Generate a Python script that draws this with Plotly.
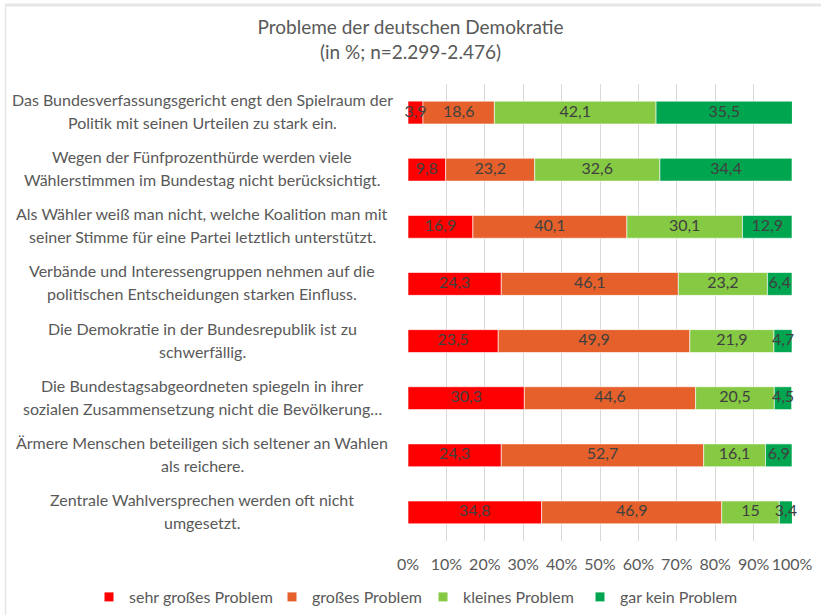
import plotly.graph_objects as go

categories = [
    ["Das Bundesverfassungsgericht engt den Spielraum der", "Politik mit seinen Urteilen zu stark ein."],
    ["Wegen der Fünfprozenthürde werden viele", "Wählerstimmen im Bundestag nicht berücksichtigt."],
    ["Als Wähler weiß man nicht, welche Koalition man mit", "seiner Stimme für eine Partei letztlich unterstützt."],
    ["Verbände und Interessengruppen nehmen auf die", "politischen Entscheidungen starken Einfluss."],
    ["Die Demokratie in der Bundesrepublik ist zu", "schwerfällig."],
    ["Die Bundestagsabgeordneten spiegeln in ihrer", "sozialen Zusammensetzung nicht die Bevölkerung…"],
    ["Ärmere Menschen beteiligen sich seltener an Wahlen", "als reichere."],
    ["Zentrale Wahlversprechen werden oft nicht", "umgesetzt."],
]
series_names = ["sehr großes Problem", "großes Problem", "kleines Problem", "gar kein Problem"]
sehr_gross = [3.9, 9.8, 16.9, 24.3, 23.5, 30.3, 24.3, 34.8]
gross = [18.6, 23.2, 40.1, 46.1, 49.9, 44.6, 52.7, 46.9]
klein = [42.1, 32.6, 30.1, 23.2, 21.9, 20.5, 16.1, 15]
gar_kein = [35.5, 34.4, 12.9, 6.4, 4.7, 4.5, 6.9, 3.4]
colors = ["#FF0000", "#E5602A", "#86C943", "#00A550"]
tick_vals = [0, 10, 20, 30, 40, 50, 60, 70, 80, 90, 100]
tick_text = [f"{v}%" for v in tick_vals]

FONT = "Lato"
TXT = "#595959"
W, H = 821, 615
ML, MR, MT, MB = 408, 29, 84, 74
keys = [f"c{i}" for i in range(len(categories))]


def px_x(p):
    return (p - ML) / (W - ML - MR)


def px_y(p):
    return (H - MB - p) / (H - MT - MB)


fig = go.Figure()
all_series = [sehr_gross, gross, klein, gar_kein]
base = [0.0] * len(keys)
for i, (name, vals, col) in enumerate(zip(series_names, all_series, colors)):
    fig.add_trace(go.Bar(
        y=keys, x=vals, name=name, orientation="h", base=base,
        marker=dict(color=col, line=dict(color="white", width=0.6)),
        showlegend=False, hoverinfo="skip",
    ))
    mids = [b + v / 2 for b, v in zip(base, vals)]
    fig.add_trace(go.Scatter(
        x=mids, y=keys, mode="text",
        text=[f"{v:g}".replace(".", ",") for v in vals],
        textposition="middle center", cliponaxis=False,
        textfont=dict(family=FONT, size=16, color="#404040"),
        showlegend=False, hoverinfo="skip",
    ))
    base = [b + v for b, v in zip(base, vals)]

# legend entries
legend_px = [89, 272, 423, 580]
for i, (name, col) in enumerate(zip(series_names, colors)):
    lg = "legend" if i == 0 else f"legend{i + 1}"
    fig.add_trace(go.Scatter(
        x=[None], y=[None], mode="markers", name=name,
        marker=dict(symbol="square", size=9, color=col),
        legend=lg, showlegend=True, hoverinfo="skip",
    ))

annotations = []
for k, lines in zip(keys, categories):
    for j, line in enumerate(lines):
        annotations.append(dict(
            x=px_x(202), xref="paper", y=k, yref="y", text=line, showarrow=False,
            xanchor="center", yanchor="middle", yshift=13 - 23 * j,
            font=dict(family=FONT, size=16, color=TXT),
        ))

legend_common = dict(orientation="h", yref="container", y=1 - 597 / H, yanchor="middle",
                     xref="container", xanchor="left", bgcolor="rgba(0,0,0,0)",
                     font=dict(family=FONT, size=16, color=TXT), itemwidth=30)
legends = {}
for i, lx in enumerate(legend_px):
    key = "legend" if i == 0 else f"legend{i + 1}"
    legends[key] = dict(legend_common, x=lx / W)

shapes = [
    dict(type="line", xref="paper", yref="paper", x0=px_x(5), x1=px_x(821), y0=px_y(5), y1=px_y(5),
         line=dict(color="#E6E6E6", width=3)),
    dict(type="line", xref="paper", yref="paper", x0=px_x(5.5), x1=px_x(5.5), y0=px_y(5), y1=px_y(615),
         line=dict(color="#E6E6E6", width=1.5)),
]

fig.update_layout(
    width=W, height=H,
    barmode="overlay", bargap=0.6,
    paper_bgcolor="white", plot_bgcolor="white",
    margin=dict(l=ML, r=MR, t=MT, b=MB, autoexpand=False),
    title=dict(text="Probleme der deutschen Demokratie<br>(in %; n=2.299-2.476)",
               x=0.5, xanchor="center", y=1 - 34 / H, yanchor="top",
               font=dict(family=FONT, size=19, color=TXT)),
    xaxis=dict(range=[0, 100], tickvals=tick_vals, ticktext=tick_text,
               showgrid=True, gridcolor="#D9D9D9", gridwidth=1, zeroline=False,
               showline=False, ticks="", ticklabelstandoff=12,
               tickfont=dict(family=FONT, size=16, color=TXT)),
    yaxis=dict(categoryorder="array", categoryarray=keys, autorange="reversed",
               showticklabels=False, showgrid=False, zeroline=False, ticks=""),
    annotations=annotations,
    shapes=shapes,
    showlegend=True,
    **legends,
)
fig.write_html("out.html", config={"displayModeBar": False},
               post_script="document.body.style.margin='0';document.body.style.padding='0';")
